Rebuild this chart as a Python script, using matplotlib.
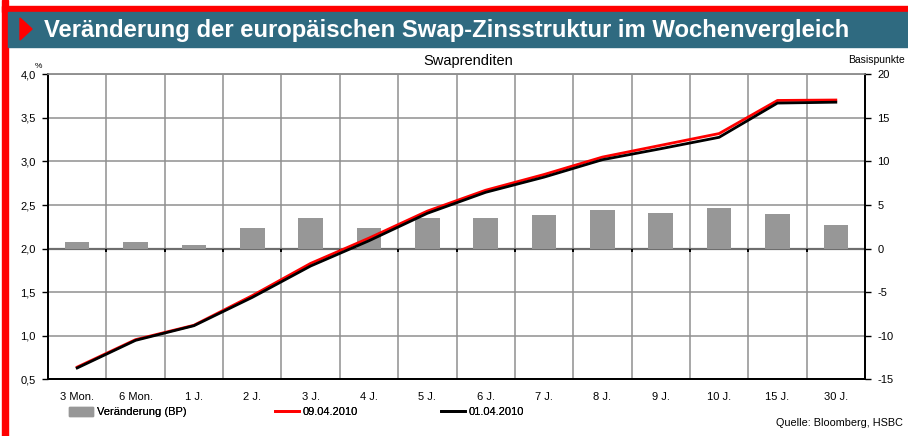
#Load libraries ---------------------------------------------------------------
import matplotlib
matplotlib.use("Agg")
import matplotlib.pyplot as plt
from matplotlib.patches import Rectangle, Polygon, Patch
from matplotlib.lines import Line2D
from matplotlib.ticker import FixedLocator, FuncFormatter

plt.rcParams['font.family'] = ['Liberation Sans', 'DejaVu Sans']
plt.rcParams['axes.unicode_minus'] = False

#Data -------------------------------------------------------------------------
maturities = ["3 Mon.", "6 Mon.", "1 J.", "2 J.", "3 J.", "4 J.", "5 J.",
              "6 J.", "7 J.", "8 J.", "9 J.", "10 J.", "15 J.", "30 J."]
change_bp = [0.7, 0.8, 0.4, 2.4, 3.5, 2.4, 3.5, 3.5, 3.9, 4.45, 4.1, 4.7, 4.0, 2.7]
yield_0904 = [0.64, 0.955, 1.12, 1.46, 1.83, 2.12, 2.43, 2.67, 2.85, 3.05,
              3.185, 3.32, 3.70, 3.705]
yield_0104 = [0.63, 0.947, 1.115, 1.44, 1.80, 2.09, 2.405, 2.646, 2.82, 3.02,
              3.146, 3.277, 3.67, 3.68]

title = "Veränderung der europäischen Swap-Zinsstruktur im Wochenvergleich"
banner_col = "#2F6A80"
bar_col = "#979797"
grid_col = "#8f8f8f"

#Figure and frame -------------------------------------------------------------
W, H = 908, 436
fig = plt.figure(figsize=(W / 100, H / 100), dpi=100)

def fx(px):
    return px / W

def fy(py):
    return 1 - py / H

#red frame (top and left) and title banner
fig.patches.append(Rectangle((fx(2), fy(436)), fx(6), 1, transform=fig.transFigure,
                             color="red", zorder=0))
fig.patches.append(Rectangle((fx(2), fy(12)), 1, 6 / H,
                             transform=fig.transFigure, color="red", zorder=0))
fig.patches.append(Rectangle((fx(8), fy(47)), 1, 35 / H, transform=fig.transFigure,
                             color=banner_col, zorder=1))
fig.patches.append(Polygon([(fx(20), fy(18)), (fx(20), fy(40)), (fx(32), fy(29))],
                           closed=True, transform=fig.transFigure, color="red", zorder=2))
fig.text(fx(44), fy(30), title, color="white", fontsize=17.2, fontweight="bold",
         ha="left", va="center")

#Axes -------------------------------------------------------------------------
ax2 = fig.add_axes([fx(48), fy(379.3), fx(865 - 48), (379.3 - 74.3) / H])
ax = ax2.twinx()
ax.yaxis.tick_left()
ax.yaxis.set_label_position("left")
ax2.yaxis.tick_right()
ax2.yaxis.set_label_position("right")
ax.set_zorder(ax2.get_zorder() + 1)
ax.patch.set_visible(False)

x = list(range(len(maturities)))

#bars on the right (basis points) axis
ax2.bar(x, change_bp, width=0.42, color=bar_col, zorder=3)
ax2.set_ylim(-15, 20)
ax2.set_yticks(range(-15, 21, 5))
ax2.set_xlim(-0.5, len(maturities) - 0.5)
ax2.set_xticks(x)
ax2.set_xticklabels(maturities)
ax2.xaxis.set_minor_locator(FixedLocator([i + 0.5 for i in x[:-1]]))
ax2.grid(axis="y", which="major", color=grid_col, lw=1.1, zorder=0)
ax2.grid(axis="x", which="minor", color=grid_col, lw=1.1, zorder=0)
ax2.axhline(0, color="#6e6e6e", lw=1.6, zorder=2)
ax2.vlines([i + 0.5 for i in x[:-1]], -0.35, 0, color="black", lw=1.4, zorder=2)
ax2.tick_params(axis="x", which="both", length=0, pad=9, labelsize=8)
ax2.tick_params(axis="y", length=4, width=1, pad=5, labelsize=8)

#yield curves on the left (%) axis
ax.plot(x, yield_0904, color="red", lw=2, zorder=4)
ax.plot(x, yield_0104, color="black", lw=2, zorder=5)
ax.set_ylim(0.5, 4.0)
ax.set_yticks([0.5 + 0.5 * i for i in range(8)])
ax.yaxis.set_major_formatter(FuncFormatter(lambda v, p: f"{v:.1f}".replace(".", ",")))
ax.tick_params(axis="y", length=4, width=1, pad=5, labelsize=8)

for a in (ax, ax2):
    a.spines["top"].set_color(grid_col)
    a.spines["top"].set_linewidth(1.1)
    for s in ("left", "right", "bottom"):
        a.spines[s].set_color("black")
        a.spines[s].set_linewidth(1.3)

#Texts ------------------------------------------------------------------------
fig.text(fx(468), fy(61), "Swaprenditen", fontsize=10.5, ha="center", va="center")
fig.text(fx(38), fy(66), "%", fontsize=6, ha="center", va="center")
fig.text(fx(905), fy(60), "Basispunkte", fontsize=7.5, ha="right", va="center")
fig.text(fx(903), fy(423), "Quelle: Bloomberg, HSBC", fontsize=7.8, ha="right", va="center")

#Legend: one entry per anchor to match the spacing --------------------------
handles = [Patch(color=bar_col),
           Line2D([], [], color="red", lw=2),
           Line2D([], [], color="black", lw=2)]
labels = ["Veränderung (BP)", "09.04.2010", "01.04.2010"]
legend_x = [69, 275, 441]
for h, lab, lx in zip(handles, labels, legend_x):
    leg = fig.legend([h], [lab], loc="center left", bbox_to_anchor=(fx(lx), fy(412)),
                     frameon=False, fontsize=8, borderpad=0, borderaxespad=0,
                     handlelength=2.2, handleheight=0.9, handletextpad=0.3)
    fig.add_artist(leg)

fig.savefig("out.png", dpi=100)
